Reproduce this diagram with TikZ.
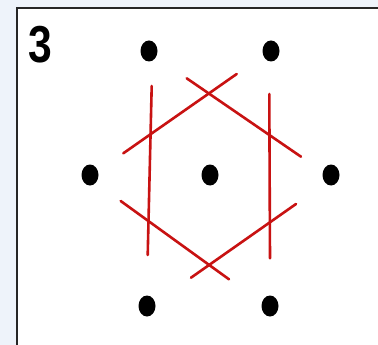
\documentclass[tikz,border=0pt]{standalone}
\usepackage{fontspec}
\setmainfont{Liberation Sans}
\begin{document}
\begin{tikzpicture}[x=1pt,y=-1pt,
  dot/.style={fill=black,draw=none},
  redline/.style={draw=lred,line width=2.6pt,line cap=round},
  frame/.style={draw=black!85,line width=2.4pt}]
\definecolor{lred}{RGB}{200,18,18}
\definecolor{bgblue}{RGB}{238,243,250}
\useasboundingbox (0,0) rectangle (378,345);
\fill[bgblue] (0,0) rectangle (378,345);
\fill[white] (17,8) rectangle (380,347);
\draw[frame] (17,347) -- (17,8) -- (380,8);
\node[font=\bfseries\fontsize{52}{52}\selectfont,xscale=0.82,inner sep=0] (num) at (40.5,45) {3};
% dots
\fill[dot] (149,51) ellipse [x radius=8.5,y radius=10.5];
\fill[dot] (271,51) ellipse [x radius=8.5,y radius=10.5];
\fill[dot] (90,175) ellipse [x radius=8.5,y radius=10.5];
\fill[dot] (210,175) ellipse [x radius=8.5,y radius=10.5];
\fill[dot] (331,175) ellipse [x radius=8.5,y radius=10.5];
\fill[dot] (147,306) ellipse [x radius=8.5,y radius=10.5];
\fill[dot] (270,306) ellipse [x radius=8.5,y radius=10.5];
% red lines
\draw[redline] (151.7,86) -- (147.7,255);
\draw[redline] (269.3,94) -- (270,258.3);
\draw[redline] (123.3,153.3) -- (236.7,74);
\draw[redline] (186.7,78.3) -- (301,156.7);
\draw[redline] (120.7,201) -- (229,279.3);
\draw[redline] (191,277.7) -- (296,204);
\end{tikzpicture}
\end{document}
